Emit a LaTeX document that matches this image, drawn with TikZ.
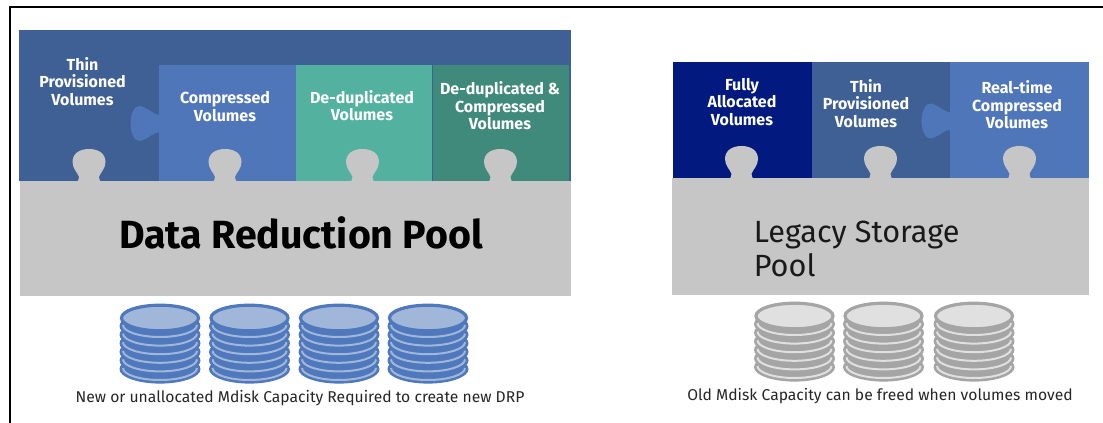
\documentclass[tikz,border=0pt]{standalone}
\usepackage{fontspec}
\setmainfont{Fira Sans}
\definecolor{dkblue}{HTML}{3F6094}
\definecolor{midblue}{HTML}{4E76B8}
\definecolor{teal1}{HTML}{52B19F}
\definecolor{teal2}{HTML}{3F8A7A}
\definecolor{navy}{HTML}{02197F}
\definecolor{poolgray}{HTML}{C6C6C6}
\definecolor{diskblue}{HTML}{4F79BC}
\definecolor{diskblueL}{HTML}{A0B7D9}
\definecolor{diskgray}{HTML}{A5A5A5}
\definecolor{diskgrayL}{HTML}{E0E0E0}
\newcommand{\knob}[2]{% center x, base y : grey knob
  \fill[poolgray] (#1-14,#2+1) .. controls (#1-11,#2+1) and (#1-10,#2-1) .. (#1-10,#2-4)
   .. controls (#1-11,#2-8) and (#1-16.5,#2-12) .. (#1-16.5,#2-19)
   .. controls (#1-16.5,#2-27) and (#1-10,#2-32) .. (#1,#2-32)
   .. controls (#1+10,#2-32) and (#1+16.5,#2-27) .. (#1+16.5,#2-19)
   .. controls (#1+16.5,#2-12) and (#1+11,#2-8) .. (#1+10,#2-4)
   .. controls (#1+10,#2-1) and (#1+11,#2+1) .. (#1+14,#2+1) -- cycle;}
\newcommand{\lknob}[3]{% base x, center y, colour : tab to the left
  \fill[#3] (#1+1,#2-8.5) .. controls (#1-4,#2-8.5) and (#1-10,#2-15) .. (#1-18,#2-17.5)
   .. controls (#1-24,#2-19) and (#1-28,#2-9) .. (#1-28,#2)
   .. controls (#1-28,#2+9) and (#1-24,#2+19) .. (#1-18,#2+17.5)
   .. controls (#1-10,#2+15) and (#1-4,#2+8.5) .. (#1+1,#2+8.5) -- cycle;}
\newcommand{\disk}[4]{% center x, top-ellipse center y, stroke, fill
  \foreach \k in {1,...,6}{
    \fill[#3] (#1,#2+\k*8.6-0.5) ellipse[x radius=40.5,y radius=14.5];
  }
  \foreach \k in {1,...,6}{
    \draw[#4,line width=1.5pt] (#1-37,#2+\k*8.6-1.6) arc[start angle=180,end angle=0,x radius=37,y radius=12];
  }
  \filldraw[fill=#4,draw=#3,line width=2.4pt] (#1,#2) ellipse[x radius=38.5,y radius=12.8];}
\tikzset{
  vol/.style={text=white,font=\bfseries\fontsize{12}{13.2}\selectfont,align=center,inner sep=0pt},
  captxt/.style={text=black!85,font=\fontsize{11.75}{13}\selectfont,inner sep=0pt},
}
\begin{document}
\begin{tikzpicture}[x=0.75pt,y=-0.75pt]
\useasboundingbox (0,0) rectangle (1103,423);
\fill[white] (0,0) rectangle (1103,423);
% frame
\coordinate (fbl) at (10,423);
\coordinate (ftl) at (10,7);
\coordinate (ftr) at (1103,7);
\draw[black,line width=1.4pt] (fbl) -- (ftl) -- (ftr);
% left block
\fill[dkblue] (19,30) rectangle (571,181);
\fill[midblue] (158.5,65) rectangle (296,181);
\fill[teal1] (296,65) rectangle (432,181);
\fill[teal2] (432,65) rectangle (569,181);
\draw[dkblue,line width=0.7pt] (432,65) -- (432,181);
\lknob{158.5}{123.5}{midblue}
\knob{89}{181}\knob{225}{181}\knob{362.5}{181}\knob{500.5}{181}
\fill[poolgray] (20,181) rectangle (571,296);
\node[vol] (a1) at (82.5,81.5) {Thin\\Provisioned\\Volumes};
\node[vol] (a2) at (225,106.5) {Compressed\\Volumes};
\node[vol] (a3) at (362,105.5) {De-duplicated\\Volumes};
\node[vol] (a4) at (500,106) {De-duplicated \&\\Compressed\\Volumes};
\node[font=\bfseries\fontsize{29.5}{31}\selectfont,text=black,inner sep=0pt] (a5) at (301,233) {Data Reduction Pool};
\disk{160}{318}{diskblue}{diskblueL}
\disk{249.5}{318}{diskblue}{diskblueL}
\disk{339}{318}{diskblue}{diskblueL}
\disk{428}{318}{diskblue}{diskblueL}
\node[captxt] (a6) at (300,398) {New or unallocated Mdisk Capacity Required to create new DRP};
% right block
\fill[navy] (673,62) rectangle (812,178);
\fill[dkblue] (812,62) rectangle (950,178);
\fill[midblue] (950,62) rectangle (1089,178);
\lknob{949.5}{121}{midblue}
\knob{741.5}{178}\knob{880.5}{178}\knob{1019.5}{178}
\fill[poolgray] (672,178) rectangle (1089,295);
\node[vol] (b1) at (742,102) {Fully\\Allocated\\Volumes};
\node[vol] (b2) at (866,103.5) {Thin\\Provisioned\\Volumes};
\node[vol] (b3) at (1017,105) {Real-time\\Compressed\\Volumes};
\node[font=\fontsize{23}{26}\selectfont,text=black!90,align=left,inner sep=0pt,anchor=west] (b4) at (753.5,249) {Legacy Storage\\Pool};
\disk{794.5}{316}{diskgray}{diskgrayL}
\disk{883.5}{316}{diskgray}{diskgrayL}
\disk{974}{316}{diskgray}{diskgrayL}
\node[captxt] (b5) at (880,396) {Old Mdisk Capacity can be freed when volumes moved};
\end{tikzpicture}
\end{document}
